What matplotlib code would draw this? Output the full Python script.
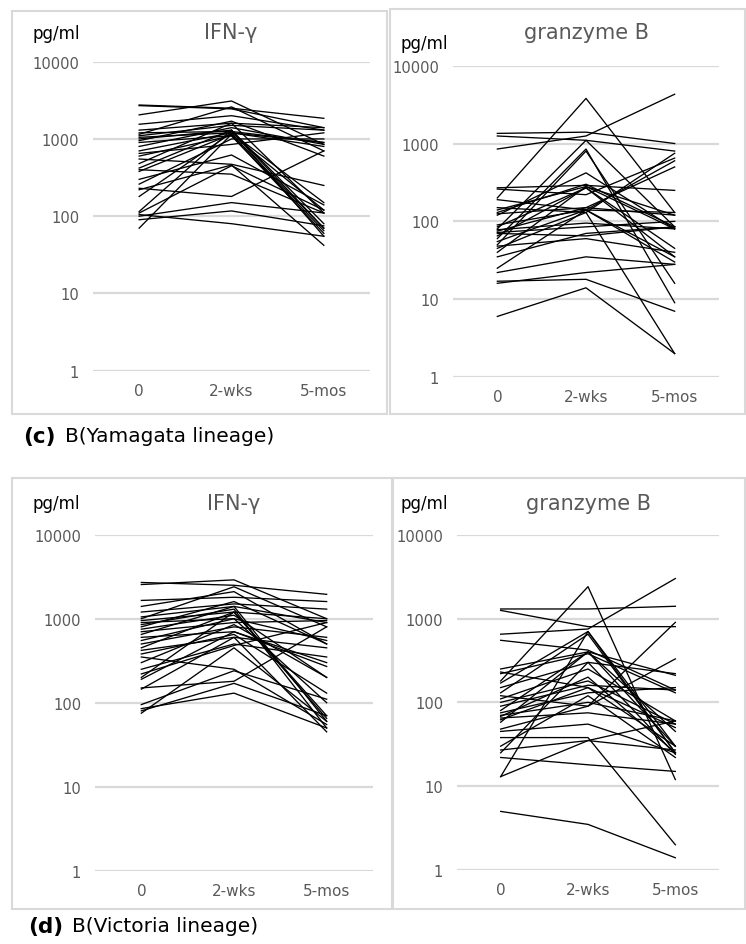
import matplotlib
matplotlib.use('Agg')
import matplotlib.pyplot as plt
from matplotlib.patches import Rectangle

plt.rcParams['font.family'] = ['DejaVu Sans']

timepoints = ['0', '2-wks', '5-mos']
yticks = [1, 10, 100, 1000, 10000]

# each row is one subject: value at 0, 2-wks, 5-mos (pg/ml)
yam_ifn = [
    [2750, 2500, 1850], [2700, 2450, 1400], [2050, 3100, 850], [1550, 2000, 1300],
    [1300, 1600, 1400], [1200, 1250, 900], [1150, 2600, 700], [1100, 1500, 1300],
    [1050, 1200, 800], [1000, 1300, 55], [950, 1700, 600], [900, 1100, 60],
    [800, 1400, 850], [700, 1200, 150], [650, 850, 1200], [600, 1100, 65],
    [550, 470, 250], [480, 1600, 110], [420, 1300, 80], [400, 350, 110],
    [380, 1150, 120], [300, 620, 140], [260, 1000, 1000], [230, 180, 700],
    [220, 460, 42], [180, 1200, 900], [115, 1300, 70], [110, 450, 120],
    [105, 80, 55], [90, 117, 75], [100, 150, 110], [70, 1150, 70],
]

yam_gzb = [
    [1350, 1400, 1000], [1250, 1100, 800], [850, 1250, 4300], [270, 290, 250],
    [260, 220, 650], [200, 3800, 130], [190, 140, 35], [150, 130, 750],
    [140, 280, 120], [130, 300, 85], [125, 150, 500], [120, 420, 80],
    [90, 140, 130], [85, 270, 35], [80, 1100, 85], [78, 95, 80],
    [75, 150, 120], [72, 85, 100], [70, 65, 85], [65, 270, 45],
    [60, 850, 9], [55, 140, 30], [50, 800, 16], [48, 60, 40],
    [45, 130, 2], [40, 280, 80], [35, 70, 85], [25, 140, 600],
    [22, 35, 28], [16, 22, 28], [17, 18, 7], [6, 14, 2],
]

vic_ifn = [
    [2700, 2500, 1950], [2550, 2900, 1000], [1650, 1800, 1600], [1400, 2100, 500],
    [1200, 1500, 1300], [1050, 1400, 900], [1000, 2400, 800], [950, 1200, 1000],
    [900, 1000, 550], [850, 1300, 50], [800, 1600, 500], [750, 1100, 200],
    [700, 900, 950], [650, 1400, 60], [600, 700, 300], [550, 1000, 100],
    [500, 800, 600], [450, 1200, 70], [420, 600, 450], [380, 650, 130],
    [350, 250, 55], [300, 850, 200], [250, 500, 350], [220, 480, 900],
    [200, 1200, 65], [190, 700, 270], [150, 180, 800], [145, 600, 45],
    [95, 240, 110], [85, 130, 50], [80, 170, 70], [75, 450, 60],
]

vic_gzb = [
    [1300, 1300, 1400], [1250, 800, 800], [650, 750, 3000], [550, 420, 140],
    [250, 400, 210], [230, 150, 50], [220, 380, 130], [180, 2400, 12],
    [170, 700, 25], [150, 300, 220], [130, 650, 25], [120, 90, 330],
    [110, 250, 60], [100, 180, 55], [90, 160, 140], [80, 400, 30],
    [75, 130, 150], [70, 100, 60], [68, 200, 25], [65, 75, 55],
    [62, 150, 30], [58, 400, 45], [48, 90, 900], [45, 55, 25],
    [38, 38, 2], [30, 120, 22], [27, 35, 27], [25, 300, 24],
    [22, 18, 15], [13, 700, 30], [13, 35, 60], [5, 3.5, 1.4],
]

W, H = 746, 945
GRID = '#d9d9d9'
TXT = '#595959'


def box(px0, py0, px1, py1):
    # pixel coords, y from top
    return [px0 / W, 1 - py1 / H, (px1 - px0) / W, (py1 - py0) / H]


def fig_text(fig, x, y, s, **kw):
    fig.text(x / W, 1 - y / H, s, **kw)


def panel(fig, rect, frame, data, title, title_x, title_y, unit_x, unit_y):
    fig.patches.append(Rectangle((frame[0], frame[1]), frame[2], frame[3],
                                 transform=fig.transFigure, fill=False,
                                 edgecolor=GRID, linewidth=1.5))
    ax = fig.add_axes(box(*rect))
    for row in data:
        ax.plot(range(len(timepoints)), row, color='black', linewidth=0.95)
    ax.set_yscale('log')
    ax.set_ylim(1, 10000)
    ax.set_xlim(-0.5, 2.5)
    ax.set_yticks(yticks)
    ax.set_yticklabels([str(t) for t in yticks])
    ax.minorticks_off()
    ax.set_xticks(range(len(timepoints)))
    ax.set_xticklabels(timepoints)
    ax.yaxis.grid(True, color=GRID, linewidth=1.6)
    ax.set_axisbelow(True)
    for s in ax.spines.values():
        s.set_visible(False)
    ax.tick_params(length=0, colors=TXT)
    ax.tick_params(axis='y', pad=10, labelsize=10.6)
    ax.tick_params(axis='x', pad=9, labelsize=11)
    fig_text(fig, title_x, title_y, title, ha='center', va='center',
             fontsize=15, color=TXT)
    fig_text(fig, unit_x, unit_y, 'pg/ml', ha='left', va='center',
             fontsize=12, color='black')
    return ax


fig = plt.figure(figsize=(W / 100, H / 100), dpi=100)

panel(fig, (93, 62.7, 370, 371.7), box(12, 12, 387, 415), yam_ifn,
      'IFN-γ', 231, 33, 32, 34)
panel(fig, (453, 66.7, 719, 378), box(390, 10, 745, 415), yam_gzb,
      'granzyme B', 586, 33, 400, 44)
panel(fig, (95, 535.7, 373, 871.7), box(12, 479, 392, 910), vic_ifn,
      'IFN-γ', 234, 504, 32, 504)
panel(fig, (457, 535.7, 719, 871), box(393, 479, 745, 910), vic_gzb,
      'granzyme B', 588, 504, 400, 504)

fig_text(fig, 23, 437, '(c)', ha='left', va='center', fontsize=15.5, fontweight='bold')
fig_text(fig, 65, 437, 'B(Yamagata lineage)', ha='left', va='center', fontsize=14.5)
fig_text(fig, 28, 927, '(d)', ha='left', va='center', fontsize=15.5, fontweight='bold')
fig_text(fig, 72, 927, 'B(Victoria lineage)', ha='left', va='center', fontsize=14.5)

fig.savefig('out.png', dpi=100)
